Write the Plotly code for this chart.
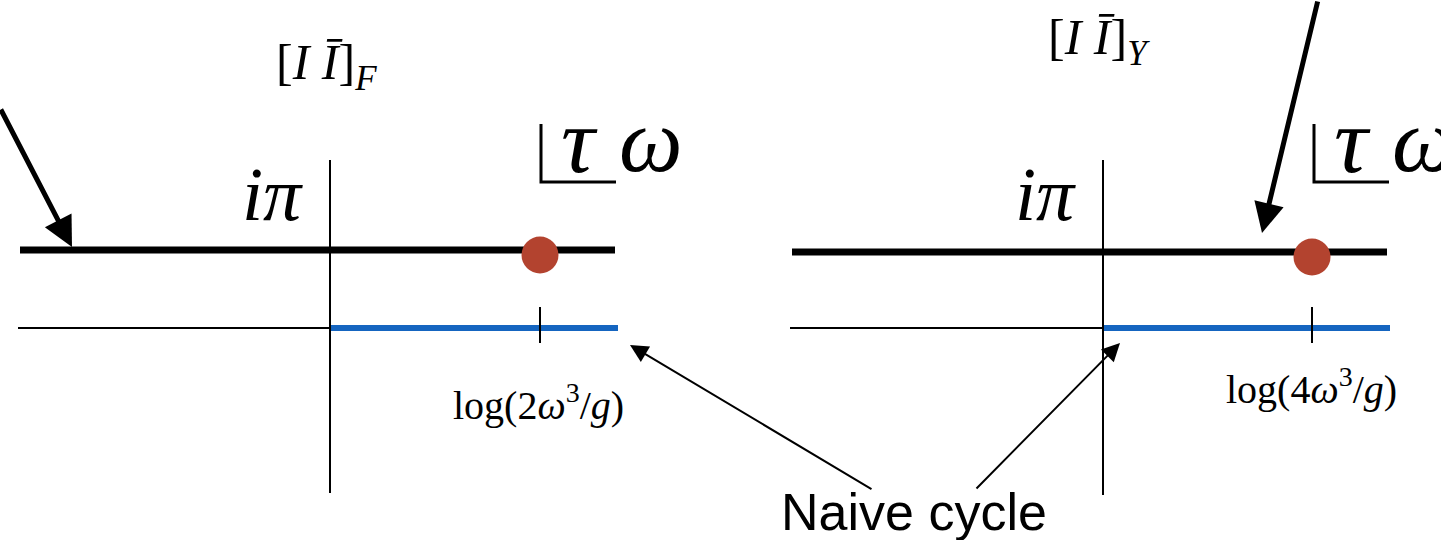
import plotly.graph_objects as go

# ---- diagram data (canvas coordinates of the two panels) ----
panel_names = ["F", "Y"]
panel_origin_x = [330, 1103]          # vertical (imaginary) axis position
panel_left_x = [18, 790]              # left end of real axis
panel_right_x = [618, 1390]           # right end of lines
top_line_y = [250, 252]               # line Im = i*pi
real_axis_y = [328, 328]
vert_top_y = [160, 160]
vert_bot_y = [493, 495]
point_x = [540, 1312]                 # log(2w^3/g), log(4w^3/g)
point_y = [255, 257]
tick_labels = ["log(2<i>ω</i><sup>3</sup>/<i>g</i>)", "log(4<i>ω</i><sup>3</sup>/<i>g</i>)"]
tick_label_pos = [(538, 402), (1311, 386)]
title_labels = ["[<i>I</i> <i>Ī</i>]<sub><i>F</i></sub>", "[<i>I</i> <i>Ī</i>]<sub><i>Y</i></sub>"]
title_pos = [(326, 66), (1099, 41)]
ipi_pos = [(272, 194), (1045, 194)]
corner_x = [541, 1314]

BLACK = "#000000"
BLUE = "#1565C0"
RED = "#B3432F"
SERIF = "Liberation Serif, DejaVu Serif, serif"

fig = go.Figure()

for k in range(2):
    # thick line at i*pi
    fig.add_trace(go.Scatter(x=[panel_left_x[k] + 2, panel_right_x[k] - 3],
                             y=[top_line_y[k]] * 2, mode="lines",
                             line=dict(color=BLACK, width=7), hoverinfo="skip"))
    # real axis, thin part
    fig.add_trace(go.Scatter(x=[panel_left_x[k], panel_origin_x[k]],
                             y=[real_axis_y[k]] * 2, mode="lines",
                             line=dict(color=BLACK, width=2), hoverinfo="skip"))
    # naive cycle (blue)
    fig.add_trace(go.Scatter(x=[panel_origin_x[k], panel_right_x[k]],
                             y=[real_axis_y[k]] * 2, mode="lines",
                             line=dict(color=BLUE, width=6), hoverinfo="skip"))
    # vertical axis
    fig.add_trace(go.Scatter(x=[panel_origin_x[k]] * 2,
                             y=[vert_top_y[k], vert_bot_y[k]], mode="lines",
                             line=dict(color=BLACK, width=2), hoverinfo="skip"))
    # tick
    fig.add_trace(go.Scatter(x=[point_x[k]] * 2,
                             y=[real_axis_y[k] - 21, real_axis_y[k] + 15], mode="lines",
                             line=dict(color=BLACK, width=2), hoverinfo="skip"))
    # corner symbol for tau-omega plane
    fig.add_trace(go.Scatter(x=[corner_x[k], corner_x[k], corner_x[k] + 75],
                             y=[124, 182, 182], mode="lines",
                             line=dict(color=BLACK, width=3), hoverinfo="skip"))
    # red point
    fig.add_trace(go.Scatter(x=[point_x[k]], y=[point_y[k]], mode="markers",
                             marker=dict(color=RED, size=37, line=dict(width=0)),
                             hoverinfo="skip"))

annotations = []
for k in range(2):
    annotations.append(dict(x=title_pos[k][0], y=title_pos[k][1], text=title_labels[k],
                            showarrow=False, font=dict(family=SERIF, size=50, color=BLACK)))
    annotations.append(dict(x=ipi_pos[k][0], y=ipi_pos[k][1], text="<i>iπ</i>",
                            showarrow=False, font=dict(family=SERIF, size=76, color=BLACK)))
    annotations.append(dict(x=tick_label_pos[k][0], y=tick_label_pos[k][1], text=tick_labels[k],
                            showarrow=False, font=dict(family=SERIF, size=40, color=BLACK)))
    annotations.append(dict(x=corner_x[k] + 18, y=140, text="<i>τ</i>", xanchor="left",
                            showarrow=False, font=dict(family=SERIF, size=94, color=BLACK)))
    annotations.append(dict(x=corner_x[k] + 76, y=140, text="<i>ω</i>", xanchor="left",
                            showarrow=False, font=dict(family=SERIF, size=90, color=BLACK)))

# big arrows pointing at the i*pi line
arrows_big = [((0, 108), (72, 247)), ((1318, 0), (1262, 233))]
for (sx, sy), (tx, ty) in arrows_big:
    annotations.append(dict(x=tx, y=ty, ax=sx, ay=sy, axref="x", ayref="y", xref="x", yref="y",
                            text="", showarrow=True, arrowhead=2, arrowsize=1.2,
                            arrowwidth=5, arrowcolor=BLACK, standoff=0))

# naive-cycle arrows
arrows_small = [((873, 490), (630, 345)), ((975, 490), (1120, 343))]
for (sx, sy), (tx, ty) in arrows_small:
    annotations.append(dict(x=tx, y=ty, ax=sx, ay=sy, axref="x", ayref="y", xref="x", yref="y",
                            text="", showarrow=True, arrowhead=2, arrowsize=1.8,
                            arrowwidth=2, arrowcolor=BLACK, standoff=0))

annotations.append(dict(x=914, y=512, text="Naive cycle", showarrow=False,
                        font=dict(family="Liberation Sans, Arial, sans-serif", size=52, color=BLACK)))

fig.update_layout(
    width=1441, height=540,
    margin=dict(l=0, r=0, t=0, b=0),
    paper_bgcolor="white", plot_bgcolor="white",
    showlegend=False,
    xaxis=dict(range=[0, 1441], visible=False, fixedrange=True),
    yaxis=dict(range=[540, 0], visible=False, fixedrange=True),
    annotations=annotations,
)

fig.write_html("out.html", config={"displayModeBar": False},
               post_script="document.body.style.margin='0';document.body.style.overflow='hidden';")
